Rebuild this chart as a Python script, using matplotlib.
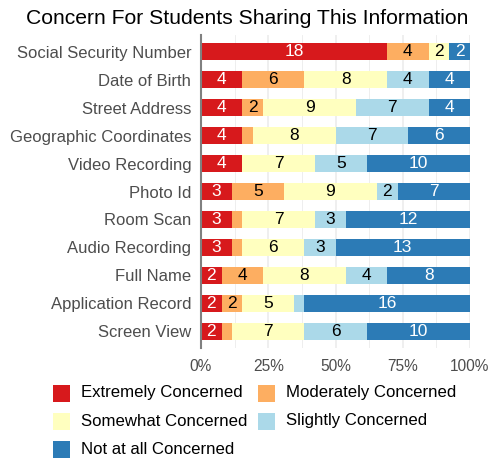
import matplotlib
matplotlib.use("Agg")
import matplotlib.pyplot as plt
import numpy as np
from matplotlib.patches import Rectangle

plt.rcParams['font.family'] = ['Liberation Sans', 'DejaVu Sans']

categories = ["Social Security Number", "Date of Birth", "Street Address",
              "Geographic Coordinates", "Video Recording", "Photo Id", "Room Scan",
              "Audio Recording", "Full Name", "Application Record", "Screen View"]
levels = ["Extremely Concerned", "Moderately Concerned", "Somewhat Concerned",
          "Slightly Concerned", "Not at all Concerned"]
extremely = [18, 4, 4, 4, 4, 3, 3, 3, 2, 2, 2]
moderately = [4, 6, 2, 1, 0, 5, 1, 1, 4, 2, 1]
somewhat = [2, 8, 9, 8, 7, 9, 7, 6, 8, 5, 7]
slightly = [0, 4, 7, 7, 5, 2, 3, 3, 4, 1, 6]
not_at_all = [2, 4, 4, 6, 10, 7, 12, 13, 8, 16, 10]
colors = ["#d7191c", "#fdae61", "#ffffbf", "#abd9e9", "#2c7bb6"]
text_colors = ["white", "black", "black", "black", "white"]
xticks = [0, 25, 50, 75, 100]
xticklabels = ["0%", "25%", "50%", "75%", "100%"]

series = np.array([extremely, moderately, somewhat, slightly, not_at_all], dtype=float)
totals = series.sum(axis=0)
pct = series / totals * 100

W, H = 492, 459
fig = plt.figure(figsize=(W / 100, H / 100), dpi=100)
ax = fig.add_axes([201/W, 1 - 348/H, (470-201)/W, (348-35)/H])

y = np.arange(len(categories))
left = np.zeros(len(categories))
for i in range(5):
    ax.barh(y, pct[i], left=left, height=0.6, color=colors[i], zorder=2)
    for j in range(len(categories)):
        v = series[i, j]
        if v >= 2:
            ax.text(left[j] + pct[i, j] / 2, y[j], f"{int(v)}", ha="center", va="center",
                    color=text_colors[i], fontsize=12.5, zorder=3)
    left += pct[i]

ax.set_ylim(len(categories) - 0.4, -0.6)
ax.set_xlim(0, 100)
ax.set_yticks(y)
ax.set_yticklabels(categories, fontsize=11.95, color="#4d4d4d")
ax.set_xticks(xticks)
ax.set_xticklabels(xticklabels, fontsize=11.2, color="#4d4d4d")
ax.set_xticks([12.5, 37.5, 62.5, 87.5], minor=True)
ax.tick_params(axis="y", length=0, pad=7)
ax.tick_params(axis="x", which="both", length=0, pad=8)
ax.grid(axis="x", which="major", color="#ebebeb", linewidth=1.1, zorder=0)
ax.grid(axis="x", which="minor", color="#ebebeb", linewidth=0.6, zorder=0)
ax.set_axisbelow(True)
for s in ["top", "right", "bottom"]:
    ax.spines[s].set_visible(False)
ax.spines["left"].set_color("#808080")
ax.spines["left"].set_linewidth(1.5)
ax.spines["left"].set_zorder(4)

fig.text(247/W, 1 - 18/H, "Concern For Students Sharing This Information",
         ha="center", va="center", fontsize=15.2, color="black")

# legend (row-wise, 2 columns)
col_x = [53, 258]
row_y = [393, 421, 449]
for k, (lab, c) in enumerate(zip(levels, colors)):
    r, cidx = divmod(k, 2)
    x0 = col_x[cidx]
    yc = row_y[r]
    fig.patches.append(Rectangle((x0 / W, 1 - (yc + 8.5) / H), 17 / W, 17 / H,
                                 transform=fig.transFigure, facecolor=c,
                                 edgecolor="none"))
    fig.text((x0 + 28) / W, 1 - yc / H, lab, ha="left", va="center",
             fontsize=12.1, color="black")

fig.savefig("out.png", dpi=100)
